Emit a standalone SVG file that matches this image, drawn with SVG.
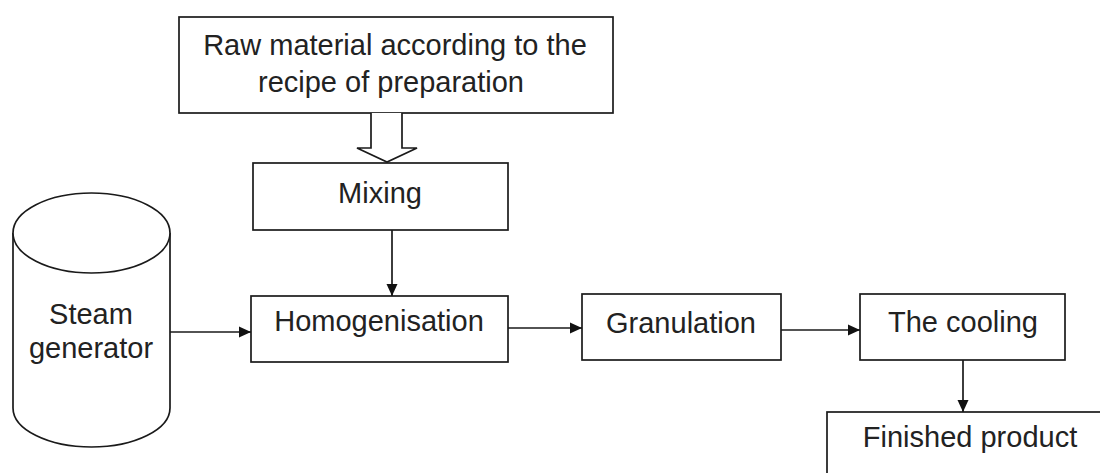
<svg xmlns="http://www.w3.org/2000/svg" width="1100" height="473" viewBox="0 0 1100 473">
<defs>
<style>
.box{fill:#fff;stroke:#1a1a1a;stroke-width:1.7}
.lbl{font-family:"Liberation Sans",Arial,sans-serif;font-size:29px;fill:#222;text-anchor:middle}
.con{stroke:#1a1a1a;stroke-width:1.7;fill:none}
</style>
<marker id="ah" markerWidth="12" markerHeight="12" viewBox="0 0 12 12" refX="12" refY="6" orient="auto" markerUnits="userSpaceOnUse">
<path d="M0,0.5 L12,6 L0,11.5 Z" fill="#111"/>
</marker>
</defs>
<rect width="1100" height="473" fill="#fff"/>
<g id="raw">
<rect class="box" x="179" y="17" width="434" height="96"/>
<text class="lbl" x="395" y="55">Raw material according to the</text>
<text class="lbl" x="391" y="92">recipe of preparation</text>
</g>
<g id="mixing">
<rect class="box" x="253" y="163" width="255" height="67"/>
<text class="lbl" x="380" y="203">Mixing</text>
</g>
<g id="homogenisation">
<rect class="box" x="251" y="296" width="257" height="66"/>
<text class="lbl" x="379" y="331">Homogenisation</text>
</g>
<g id="steam">
<path class="box" d="M13,233 L13,408 A78.5,39 0 0 0 170,408 L170,233"/>
<ellipse class="box" cx="91.5" cy="233" rx="78.5" ry="40"/>
<text class="lbl" x="91" y="324">Steam</text>
<text class="lbl" x="91" y="358">generator</text>
</g>
<g id="granulation">
<rect class="box" x="582" y="294" width="199" height="66"/>
<text class="lbl" x="681" y="333">Granulation</text>
</g>
<g id="cooling">
<rect class="box" x="860" y="294" width="205" height="66"/>
<text class="lbl" x="963" y="332">The cooling</text>
</g>
<g id="finished">
<rect class="box" x="827" y="412" width="290" height="80"/>
<text class="lbl" x="970" y="447">Finished product</text>
</g>
<g id="connectors">
<path class="box" d="M371,113 L371,148 L357,148 L387,162 L417,148 L402,148 L402,113"/>
<line class="con" x1="392" y1="230" x2="392" y2="296" marker-end="url(#ah)"/>
<line class="con" x1="170" y1="332" x2="251" y2="332" marker-end="url(#ah)"/>
<line class="con" x1="508" y1="328" x2="582" y2="328" marker-end="url(#ah)"/>
<line class="con" x1="781" y1="330" x2="860" y2="330" marker-end="url(#ah)"/>
<line class="con" x1="963" y1="360" x2="963" y2="412" marker-end="url(#ah)"/>
</g>
</svg>
